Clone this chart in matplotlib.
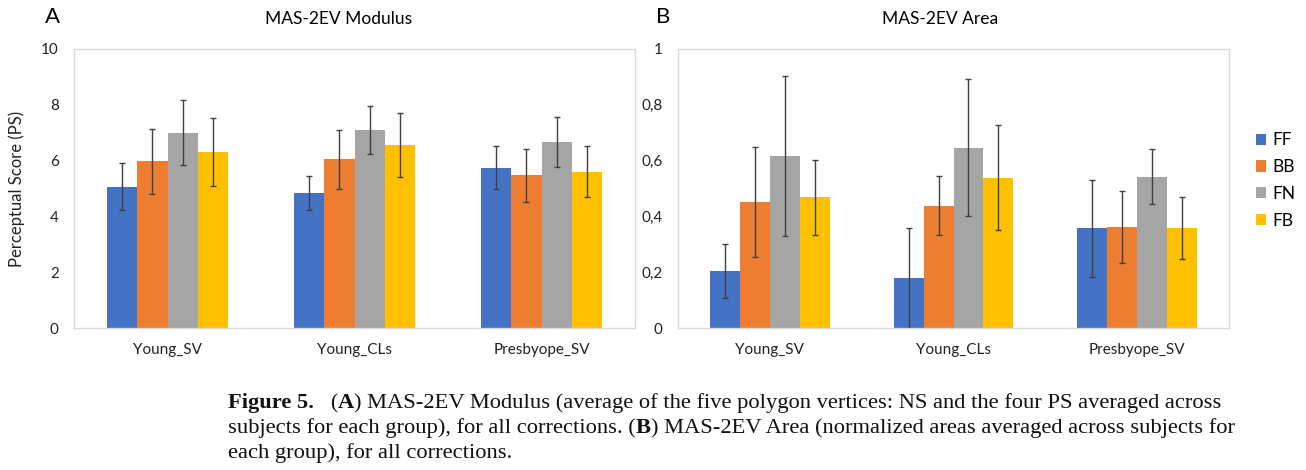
import numpy as np
import matplotlib
matplotlib.use("Agg")
import matplotlib.pyplot as plt
from matplotlib.ticker import FuncFormatter

groups = ["Young_SV", "Young_CLs", "Presbyope_SV"]
series = ["FF", "BB", "FN", "FB"]
colors = ["#4472C4", "#ED7D31", "#A5A5A5", "#FFC000"]

# panel A: modulus (mean, error) per series, one value per group
mod_FF = [5.07, 4.84, 5.75]
mod_BB = [5.98, 6.05, 5.47]
mod_FN = [7.00, 7.10, 6.68]
mod_FB = [6.30, 6.55, 5.60]
mod_FF_err = [0.83, 0.62, 0.77]
mod_BB_err = [1.17, 1.05, 0.96]
mod_FN_err = [1.17, 0.87, 0.90]
mod_FB_err = [1.22, 1.15, 0.92]

# panel B: normalized area
area_FF = [0.203, 0.179, 0.357]
area_BB = [0.450, 0.439, 0.362]
area_FN = [0.618, 0.646, 0.542]
area_FB = [0.469, 0.539, 0.359]
area_FF_err = [0.097, 0.178, 0.174]
area_BB_err = [0.197, 0.107, 0.128]
area_FN_err = [0.287, 0.245, 0.098]
area_FB_err = [0.134, 0.187, 0.111]

plt.rcParams['font.family'] = ['Lato', 'DejaVu Sans']

W, H = 1306, 470
fig = plt.figure(figsize=(W / 100, H / 100), dpi=100)
axA = fig.add_axes([74 / W, 1 - 328 / H, 561 / W, 279 / H])
axB = fig.add_axes([678 / W, 1 - 328 / H, 551 / W, 279 / H])

x = np.arange(len(groups))
w = 0.163


def draw(ax, vals, errs, ymax):
    for i, (v, e) in enumerate(zip(vals, errs)):
        ax.bar(x + (i - 1.5) * w, v, w, color=colors[i], label=series[i],
               yerr=e, error_kw=dict(ecolor="#404040", elinewidth=1.0,
                                     capsize=2.2, capthick=1.0))
    ax.set_xlim(-0.5, 2.5)
    ax.set_ylim(0, ymax)
    ax.set_xticks(x)
    ax.set_xticklabels(groups, fontsize=11)
    ax.tick_params(length=0, pad=11, labelcolor="#222222")
    ax.tick_params(axis='y', pad=11, labelsize=11)
    for s in ax.spines.values():
        s.set_color("#d9d9d9")
        s.set_linewidth(1)


draw(axA, [mod_FF, mod_BB, mod_FN, mod_FB],
     [mod_FF_err, mod_BB_err, mod_FN_err, mod_FB_err], 10)
axA.set_yticks(range(0, 11, 2))

draw(axB, [area_FF, area_BB, area_FN, area_FB],
     [area_FF_err, area_BB_err, area_FN_err, area_FB_err], 1)
axB.set_yticks(np.arange(0, 1.01, 0.2))
axB.yaxis.set_major_formatter(FuncFormatter(
    lambda v, p: ("%g" % round(v, 1)).replace(".", ",")))

fig.legend(*axB.get_legend_handles_labels(), loc="center left",
           bbox_to_anchor=(1256 / W, 1 - 180.5 / H), frameon=False,
           fontsize=12.5, handlelength=0.6, handleheight=0.6,
           labelspacing=0.62, handletextpad=0.35, borderpad=0, borderaxespad=0)

fig.text(17 / W, 1 - 188.5 / H, "Perceptual Score (PS)", rotation=90,
         ha="center", va="center", fontsize=12, color="#222222")
fig.text(339 / W, 1 - 18.5 / H, "MAS-2EV Modulus", ha="center", va="center", fontsize=12.5)
fig.text(940 / W, 1 - 18.5 / H, "MAS-2EV Area", ha="center", va="center", fontsize=12.5)
fig.text(45 / W, 1 - 17 / H, "A", ha="left", va="center", fontsize=16)
fig.text(656 / W, 1 - 17 / H, "B", ha="left", va="center", fontsize=16)

# caption with bold pieces, chained left to right
cap_lines = [
    [("Figure 5.", "bold"), ("   (", "normal"), ("A", "bold"),
     (") MAS-2EV Modulus (average of the five polygon vertices: NS and the four PS averaged across", "normal")],
    [("subjects for each group), for all corrections. (", "normal"), ("B", "bold"),
     (") MAS-2EV Area (normalized areas averaged across subjects for", "normal")],
    [("each group), for all corrections.", "normal")],
]
cap_y = [1 - 413 / H, 1 - 438 / H, 1 - 463 / H]
for line, y in zip(cap_lines, cap_y):
    last = None
    for txt, wt in line:
        kw = dict(fontsize=16.2, fontweight=wt, family="Liberation Serif",
                  va="bottom", ha="left", color="#111111")
        if last is None:
            last = fig.text(228 / W, y, txt, **kw)
        else:
            last = fig.add_artist(plt.Annotation(txt, xy=(1, 0), xycoords=last, **kw))

fig.savefig("out.png", dpi=100)
